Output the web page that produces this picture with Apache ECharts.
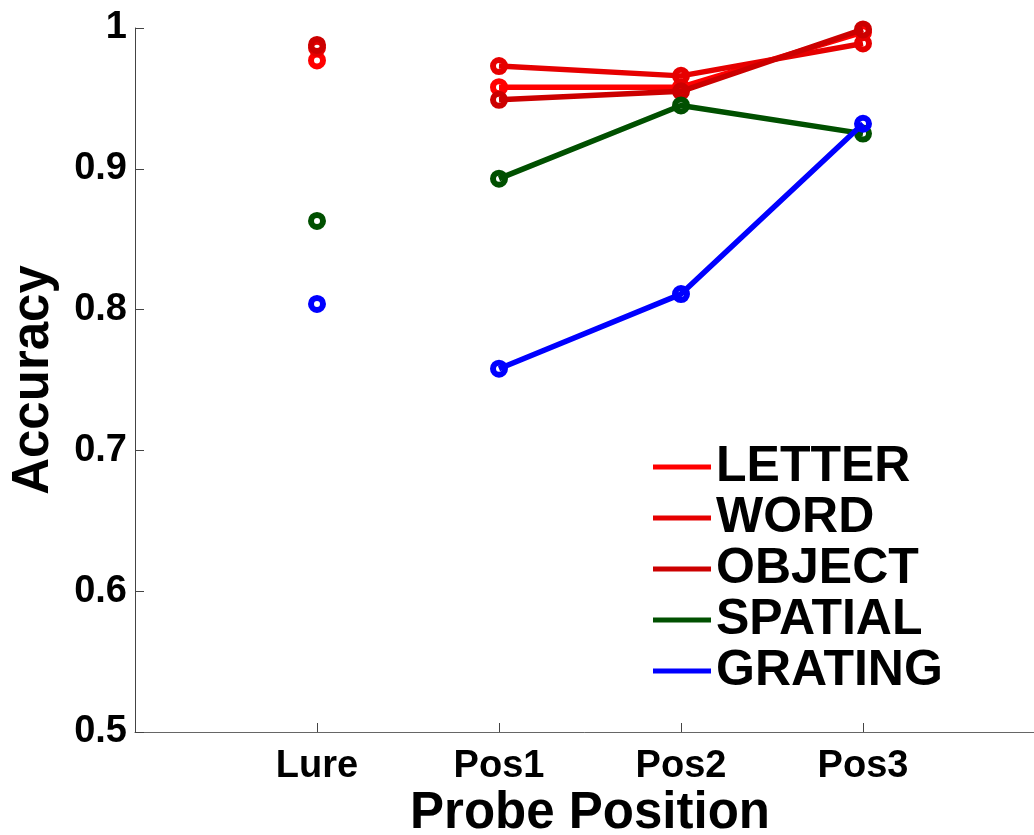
<!DOCTYPE html>
<html>
<head>
<meta charset="utf-8">
<script src="https://cdn.jsdelivr.net/npm/echarts@6/dist/echarts.min.js"></script>
<style>
html,body{margin:0;padding:0;background:#fff;}
#chart{width:1034px;height:835px;}
</style>
</head>
<body>
<div id="chart"></div>
<script>
// ---- data ----
const categories = ['Lure', 'Pos1', 'Pos2', 'Pos3'];
const seriesNames = ['LETTER', 'WORD', 'OBJECT', 'SPATIAL', 'GRATING'];
const letter  = [0.977, 0.958, 0.958, 0.997];
const word    = [0.986, 0.973, 0.966, 0.989];
const object  = [0.988, 0.949, 0.955, 0.999];
const spatial = [0.863, 0.893, 0.945, 0.925];
const grating = [0.804, 0.758, 0.811, 0.932];
const yTicks = [0.5, 0.6, 0.7, 0.8, 0.9, 1];

const colors = ['#ff0000', '#e60000', '#cc0000', '#005000', '#0000ff'];
const allData = [letter, word, object, spatial, grating];

const FONT = 'Liberation Sans, Arial, Helvetica, sans-serif';

const series = [];
seriesNames.forEach((name, i) => {
  const d = allData[i];
  const marker = {
    symbol: 'circle',
    symbolSize: 12,
    itemStyle: { color: 'transparent', borderColor: colors[i], borderWidth: 6, opacity: 1 }
  };
  // Lure point: isolated (not connected)
  series.push(Object.assign({
    name: name,
    type: 'scatter',
    data: [[1, d[0]]],
    z: 3 + i
  }, marker));
  // Probe positions: connected line
  series.push(Object.assign({
    name: name,
    type: 'line',
    data: d.slice(1).map((v, k) => [k + 2, v]),
    showSymbol: true,
    lineStyle: { color: colors[i], width: 5.5, opacity: 1 },
    z: 3 + i
  }, marker));
});

const chart = echarts.init(document.getElementById('chart'), null, { renderer: 'canvas' });
chart.setOption({
  animation: false,
  backgroundColor: '#ffffff',
  grid: { left: 135, top: 28, bottom: 103, width: 910, containLabel: false, outerBoundsMode: 'none' },
  xAxis: {
    type: 'value',
    min: 0, max: 5, interval: 1,
    name: 'Probe Position',
    nameLocation: 'middle',
    nameGap: 56,
    nameMoveOverlap: false,
    nameTextStyle: { fontFamily: FONT, fontWeight: 'bold', fontSize: 51, color: '#000' },
    axisLine: { show: true, lineStyle: { color: '#666', width: 1 } },
    axisTick: { show: true, inside: true, length: 9, lineStyle: { color: '#444', width: 1 } },
    splitLine: { show: false },
    axisLabel: {
      margin: 16,
      fontFamily: FONT, fontWeight: 'bold', fontSize: 38, color: '#000',
      formatter: v => categories[v - 1] || ''
    }
  },
  yAxis: {
    type: 'value',
    min: yTicks[0], max: yTicks[yTicks.length - 1], interval: 0.1,
    name: 'Accuracy',
    nameLocation: 'middle',
    nameGap: 76,
    nameMoveOverlap: false,
    nameTextStyle: { fontFamily: FONT, fontWeight: 'bold', fontSize: 51, color: '#000' },
    axisLine: { show: true, lineStyle: { color: '#444', width: 1 } },
    axisTick: { show: true, inside: true, length: 9, lineStyle: { color: '#444', width: 1 } },
    splitLine: { show: false },
    axisLabel: {
      margin: 8,
      fontFamily: FONT, fontWeight: 'bold', fontSize: 38, color: '#000',
      formatter: v => String(Math.round(v * 10) / 10)
    }
  },
  legend: {
    orient: 'vertical',
    left: 653,
    top: 442,
    padding: 0,
    itemGap: 1,
    itemWidth: 58,
    itemHeight: 5,
    icon: 'rect',
    selectedMode: false,
    textStyle: { fontFamily: FONT, fontWeight: 'bold', fontSize: 50, color: '#000' },
    data: seriesNames.map((n, i) => ({ name: n, itemStyle: { color: colors[i], borderWidth: 0, opacity: 1 } }))
  },
  series: series
});
</script>
</body>
</html>
